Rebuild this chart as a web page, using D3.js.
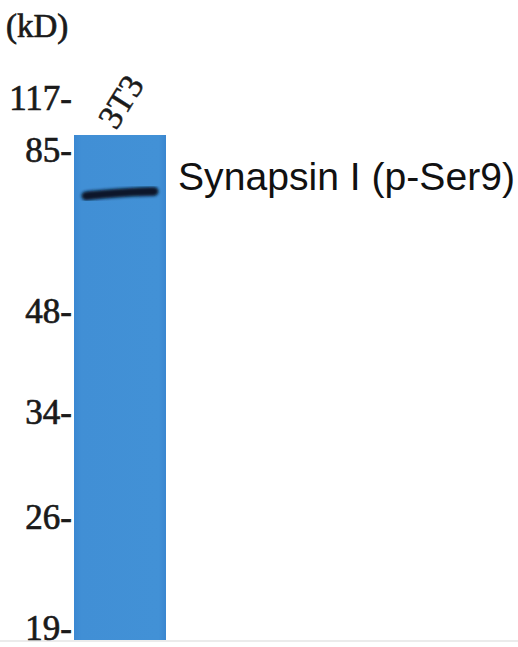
<!DOCTYPE html>
<html>
<head>
<meta charset="utf-8">
<script src="https://cdn.jsdelivr.net/npm/d3@7"></script>
<style>
  body { margin: 0; background: #fff; }
</style>
</head>
<body>
<div id="container"></div>
<script>
// marker ladder (kD) and lanes
const markers = [117, 85, 48, 34, 26, 19];
const lanes = ["3T3"];
const bands = [{ lane: "3T3", kd: 73, label: "Synapsin I (p-Ser9)" }];

const w = 518;
const h = 647;

const svg = d3.select("#container")
  .append("svg")
  .attr("width", w)
  .attr("height", h);

// gel lane geometry
const laneTop = 135;
const laneBottom = 640;

// markers are not evenly spaced on the gel, so piecewise log scale
const yScale = d3.scaleLog()
  .domain(markers)
  .range([98, 150, 311, 412, 517, 628]);

const xScale = d3.scaleBand()
  .domain(lanes)
  .range([74, 166])
  .padding(0);

// gradient for the blue membrane
const defs = svg.append("defs");
const grad = defs.append("linearGradient")
  .attr("id", "membrane")
  .attr("x1", 0).attr("x2", 1).attr("y1", 0).attr("y2", 0);
grad.append("stop").attr("offset", "0%").attr("stop-color", "#3b88d2");
grad.append("stop").attr("offset", "8%").attr("stop-color", "#418fd5");
grad.append("stop").attr("offset", "92%").attr("stop-color", "#4291d6");
grad.append("stop").attr("offset", "100%").attr("stop-color", "#3a86cf");

const blur = defs.append("filter").attr("id", "blur")
  .attr("x", "-20%").attr("y", "-100%").attr("width", "140%").attr("height", "300%");
blur.append("feGaussianBlur").attr("stdDeviation", 1.8);

//THE LANES
svg.selectAll("rect.lane")
  .data(lanes)
  .enter()
  .append("rect")
  .attr("class", "lane")
  .attr("x", d => xScale(d))
  .attr("y", laneTop)
  .attr("width", xScale.bandwidth())
  .attr("height", laneBottom - laneTop)
  .attr("fill", "url(#membrane)");

// faint baseline under the gel
svg.append("line")
  .attr("x1", 0).attr("x2", w)
  .attr("y1", laneBottom + 1).attr("y2", laneBottom + 1)
  .attr("stroke", "#e4e4e4")
  .attr("stroke-width", 1.5);

//THE BANDS
const bandLine = d3.line().curve(d3.curveBasis);
svg.selectAll("path.band")
  .data(bands)
  .enter()
  .append("path")
  .attr("class", "band")
  .attr("d", d => {
    const x0 = xScale(d.lane) + 12;
    const x1 = xScale(d.lane) + xScale.bandwidth() - 12;
    const y = yScale(d.kd);
    return bandLine([[x0, y + 3], [x0 + 20, y + 1], [x1 - 20, y - 1], [x1, y - 1.5]]);
  })
  .attr("fill", "none")
  .attr("stroke", "#07132a")
  .attr("stroke-width", 9)
  .attr("stroke-linecap", "round")
  .attr("filter", "url(#blur)");

svg.selectAll("text.band-label")
  .data(bands)
  .enter()
  .append("text")
  .attr("class", "band-label")
  .attr("x", 178)
  .attr("y", 190)
  .attr("font-family", "Liberation Sans, Arial, sans-serif")
  .attr("font-size", 38)
  .attr("textLength", 337)
  .attr("lengthAdjust", "spacingAndGlyphs")
  .attr("fill", "#111")
  .text(d => d.label);

//THE MARKER LABELS
svg.selectAll("text.marker")
  .data(markers)
  .enter()
  .append("text")
  .attr("class", "marker")
  .attr("x", 72)
  .attr("y", d => yScale(d))
  .attr("dy", "0.35em")
  .attr("text-anchor", "end")
  .attr("font-family", "Liberation Serif, Times New Roman, serif")
  .attr("font-size", 35)
  .attr("fill", "#1a1a1a")
  .attr("stroke", "#1a1a1a")
  .attr("stroke-width", 0.7)
  .text(d => d + "-");

svg.append("text")
  .attr("x", 6)
  .attr("y", 37)
  .attr("font-family", "Liberation Serif, Times New Roman, serif")
  .attr("font-size", 33)
  .attr("fill", "#1a1a1a")
  .attr("stroke", "#1a1a1a")
  .attr("stroke-width", 0.7)
  .text("(kD)");

//THE LANE LABELS
svg.selectAll("text.lane-label")
  .data(lanes)
  .enter()
  .append("text")
  .attr("class", "lane-label")
  .attr("transform", d => `translate(${xScale(d) + xScale.bandwidth() / 2 - 4}, ${laneTop - 4}) rotate(-58)`)
  .attr("font-family", "Liberation Serif, Times New Roman, serif")
  .attr("font-size", 34)
  .attr("fill", "#1a1a1a")
  .attr("stroke", "#1a1a1a")
  .attr("stroke-width", 0.5)
  .text(d => d);
</script>
</body>
</html>
